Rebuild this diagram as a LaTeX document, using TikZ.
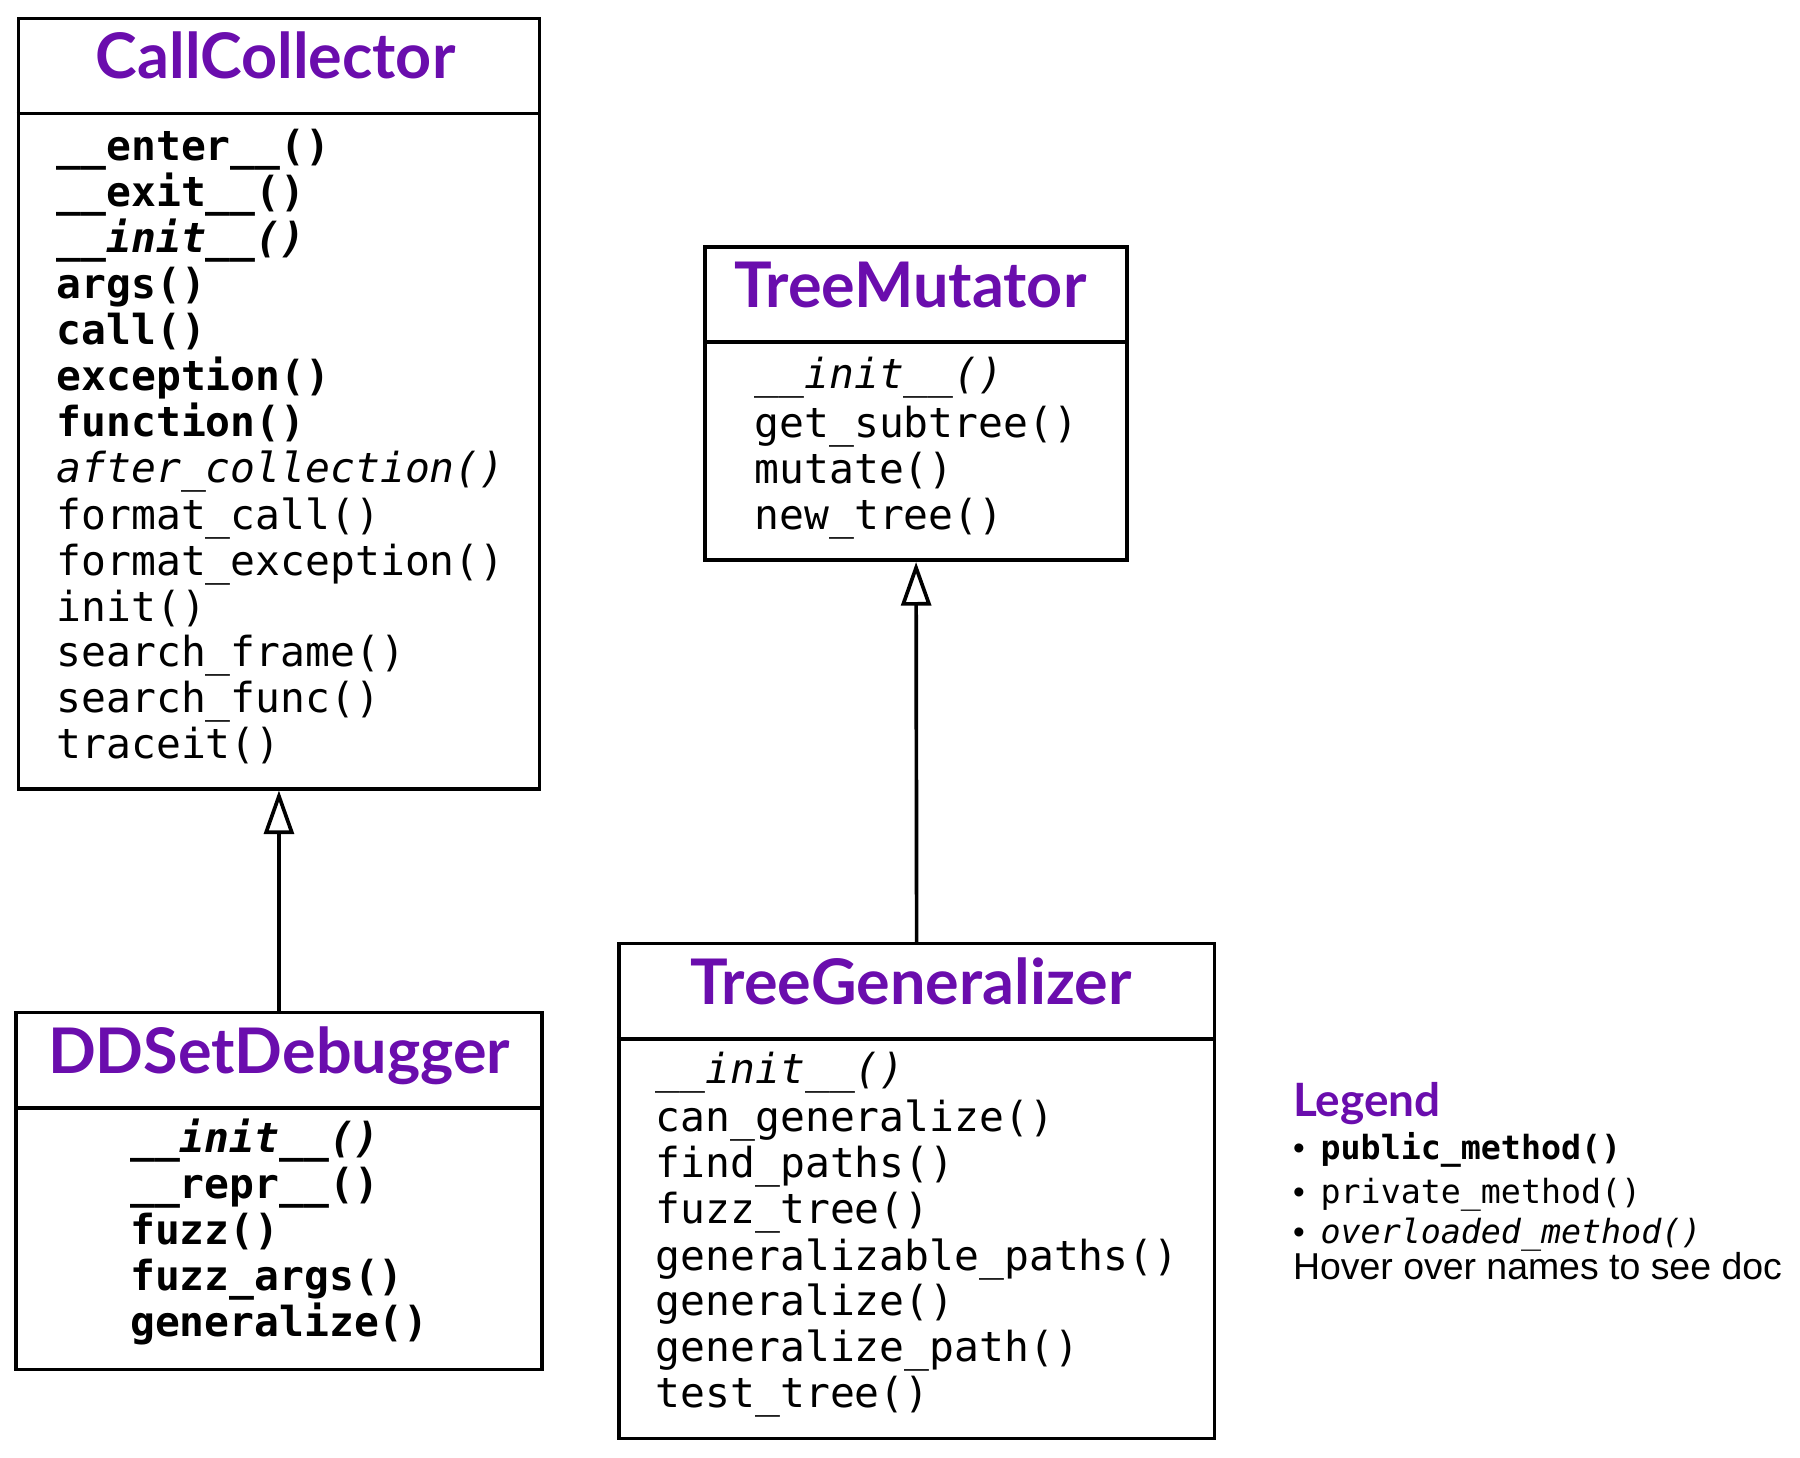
\documentclass[tikz,border=0pt]{standalone}
\usepackage{fontspec}
\usetikzlibrary{arrows.meta}
\newfontfamily\monof{DejaVu Sans Mono}
\newfontfamily\ttlf{Lato}
\newfontfamily\hsansf{Liberation Sans}
\definecolor{cname}{HTML}{6A0DAD}
\tikzset{
  box/.style={draw, line width=1.6pt, rectangle, inner sep=0pt},
  divider/.style={line width=1.6pt},
  ctitle/.style={anchor=base, inner sep=0pt, text=cname, font=\ttlf\bfseries\fontsize{27.4}{32}\selectfont},
  meth/.style={anchor=base west, inner sep=0pt, font=\monof\fontsize{18}{20}\selectfont},
  pub/.style={meth, font=\monof\bfseries\fontsize{18}{20}\selectfont},
  over/.style={meth, font=\monof\itshape\fontsize{18}{20}\selectfont},
  pubover/.style={meth, font=\monof\bfseries\itshape\fontsize{18}{20}\selectfont},
  legtitle/.style={anchor=base west, inner sep=0pt, text=cname, font=\ttlf\bfseries\fontsize{20}{22}\selectfont},
  legline/.style={anchor=base west, inner sep=0pt, font=\monof\fontsize{14.5}{16}\selectfont},
  legtext/.style={anchor=base west, inner sep=0pt, font=\hsansf\fontsize{16.3}{18}\selectfont},
  inherit/.style={line width=1.6pt, -{Triangle[open, length=19pt, width=13pt]}}
}
\newcommand{\bul}{\hbox to 12pt{\hsansf\textbullet\hfill}}
\begin{document}
\begin{tikzpicture}[x=0.5pt, y=-0.5pt]
\useasboundingbox (0,0) rectangle (1568,1270);

% CallCollector
\node[box, minimum width=227pt, minimum height=335.5pt] (cc) at (243,351.5) {};
\draw[divider] (cc.west |- 0,99) -- (cc.east |- 0,99);
\node[ctitle] (cct) at (240,68) {CallCollector};
\node[pub] (cc1) at (49,140) {\_\_enter\_\_()};
\node[pub] (cc2) at (49,180) {\_\_exit\_\_()};
\node[pubover] (cc3) at (49,220) {\_\_init\_\_()};
\node[pub] (cc4) at (49,260) {args()};
\node[pub] (cc5) at (49,300) {call()};
\node[pub] (cc6) at (49,340) {exception()};
\node[pub] (cc7) at (49,380) {function()};
\node[over] (cc8) at (49,420) {after\_collection()};
\node[meth] (cc9) at (49,461) {format\_call()};
\node[meth] (cc10) at (49,501) {format\_exception()};
\node[meth] (cc11) at (49,541) {init()};
\node[meth] (cc12) at (49,581) {search\_frame()};
\node[meth] (cc13) at (49,621) {search\_func()};
\node[meth] (cc14) at (49,661) {traceit()};

% TreeMutator
\node[box, minimum width=184pt, minimum height=136.5pt] (tm) at (798,351.5) {};
\draw[divider] (tm.west |- 0,298) -- (tm.east |- 0,298);
\node[ctitle] (tmt) at (793,268) {TreeMutator};
\node[over] (tm1) at (657,338) {\_\_init\_\_()};
\node[meth] (tm2) at (657,381) {get\_subtree()};
\node[meth] (tm3) at (657,421) {mutate()};
\node[meth] (tm4) at (657,461) {new\_tree()};

% DDSetDebugger
\node[box, minimum width=229pt, minimum height=155.5pt] (dd) at (243,1037.5) {};
\draw[divider] (dd.west |- 0,965) -- (dd.east |- 0,965);
\node[ctitle] (ddt) at (243,935) {DDSetDebugger};
\node[pubover] (dd1) at (113,1004) {\_\_init\_\_()};
\node[pub] (dd2) at (113,1044) {\_\_repr\_\_()};
\node[pub] (dd3) at (113,1084) {fuzz()};
\node[pub] (dd4) at (113,1124) {fuzz\_args()};
\node[pub] (dd5) at (113,1164) {generalize()};

% TreeGeneralizer
\node[box, minimum width=259.5pt, minimum height=215.5pt] (tg) at (798.5,1037.5) {};
\draw[divider] (tg.west |- 0,905) -- (tg.east |- 0,905);
\node[ctitle] (tgt) at (793.5,875) {TreeGeneralizer};
\node[over] (tg1) at (571,944) {\_\_init\_\_()};
\node[meth] (tg2) at (571,986) {can\_generalize()};
\node[meth] (tg3) at (571,1026) {find\_paths()};
\node[meth] (tg4) at (571,1066) {fuzz\_tree()};
\node[meth] (tg5) at (571,1107) {generalizable\_paths()};
\node[meth] (tg6) at (571,1146) {generalize()};
\node[meth] (tg7) at (571,1186) {generalize\_path()};
\node[meth] (tg8) at (571,1226) {test\_tree()};

% inheritance
\draw[inherit] (dd.north) -- (cc.south);
\draw[inherit] (tg.north) -- (tm.south);

% legend
\node[legtitle] (lg) at (1126,973) {Legend};
\node[legline] (lg1) at (1126,1010) {\bul{\bfseries public\_method()}};
\node[legline] (lg2) at (1126,1048) {\bul private\_method()};
\node[legline] (lg3) at (1126,1083) {\bul{\itshape overloaded\_method()}};
\node[legtext] (lg4) at (1126,1115) {Hover over names to see doc};
\end{tikzpicture}
\end{document}
